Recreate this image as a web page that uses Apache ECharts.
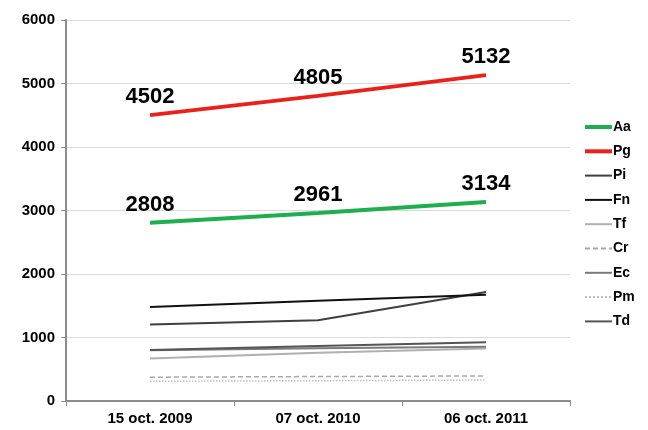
<!DOCTYPE html>
<html>
<head>
<meta charset="utf-8">
<script src="https://cdn.jsdelivr.net/npm/echarts@6/dist/echarts.min.js"></script>
<style>
html,body{margin:0;padding:0;background:#fff;}
#chart{width:648px;height:430px;}
</style>
</head>
<body>
<div id="chart"></div>
<script>
// data
const dates = ['15 oct. 2009', '07 oct. 2010', '06 oct. 2011'];
const Aa = [2808, 2961, 3134];
const Pg = [4502, 4805, 5132];
const Pi = [1205, 1270, 1715];
const Fn = [1480, 1580, 1675];
const Tf = [670, 760, 825];
const Cr = [375, 385, 395];
const Ec = [800, 830, 855];
const Pm = [310, 320, 330];
const Td = [805, 865, 925];
const names = ['Aa', 'Pg', 'Pi', 'Fn', 'Tf', 'Cr', 'Ec', 'Pm', 'Td'];

const font = 'Liberation Sans, Arial, sans-serif';

function line(name, data, color, width, type, showLabel) {
    return {
        name: name,
        type: 'line',
        data: data,
        symbol: 'circle',
        symbolSize: 0.1,
        showSymbol: true,
        lineStyle: { color: color, width: width, type: type || 'solid' },
        itemStyle: { color: color },
        label: {
            show: !!showLabel,
            position: 'top',
            distance: 7,
            color: '#000',
            fontFamily: font,
            fontWeight: 'bold',
            fontSize: 22
        },
        emphasis: { disabled: true },
        animation: false
    };
}

const chart = echarts.init(document.getElementById('chart'));
chart.setOption({
    animation: false,
    grid: { left: 66, right: 78, top: 20, bottom: 29, containLabel: false },
    legend: {
        orient: 'vertical',
        left: 583,
        top: 120,
        padding: 0,
        itemWidth: 27,
        itemHeight: 14,
        itemGap: 10.3,
        itemStyle: { opacity: 0 },
        textStyle: { fontFamily: font, fontWeight: 'bold', fontSize: 14, color: '#000', padding: [0, 0, 0, -4] },
        data: names.map(function (n, i) {
            return i < 2 ? { name: n, lineStyle: { width: 4 } } : { name: n };
        })
    },
    xAxis: {
        type: 'category',
        data: dates,
        boundaryGap: true,
        axisLine: { lineStyle: { color: '#8c8c8c', width: 2 } },
        axisTick: { show: true, length: 5, lineStyle: { color: '#8c8c8c' } },
        axisLabel: { fontFamily: font, fontWeight: 'bold', fontSize: 15, color: '#000', margin: 10 }
    },
    yAxis: {
        type: 'value',
        min: 0,
        max: 6000,
        interval: 1000,
        axisLine: { show: true, lineStyle: { color: '#8c8c8c', width: 2 } },
        axisTick: { show: true, length: 5, lineStyle: { color: '#8c8c8c' } },
        splitLine: { lineStyle: { color: '#d9d9d9' } },
        axisLabel: { fontFamily: font, fontWeight: 'bold', fontSize: 15, color: '#000', margin: 11, formatter: function (v) { return String(v); } }
    },
    series: [
        line('Aa', Aa, '#1fae4f', 4, 'solid', true),
        line('Pg', Pg, '#e8211d', 4, 'solid', true),
        line('Pi', Pi, '#3f3f3f', 2),
        line('Fn', Fn, '#111111', 2),
        line('Tf', Tf, '#b0b0b0', 2),
        line('Cr', Cr, '#a9a9a9', 1.5, [5, 3]),
        line('Ec', Ec, '#7a7a7a', 2),
        line('Pm', Pm, '#c0c0c0', 1.5, 'dotted'),
        line('Td', Td, '#555555', 2)
    ]
});
</script>
</body>
</html>
